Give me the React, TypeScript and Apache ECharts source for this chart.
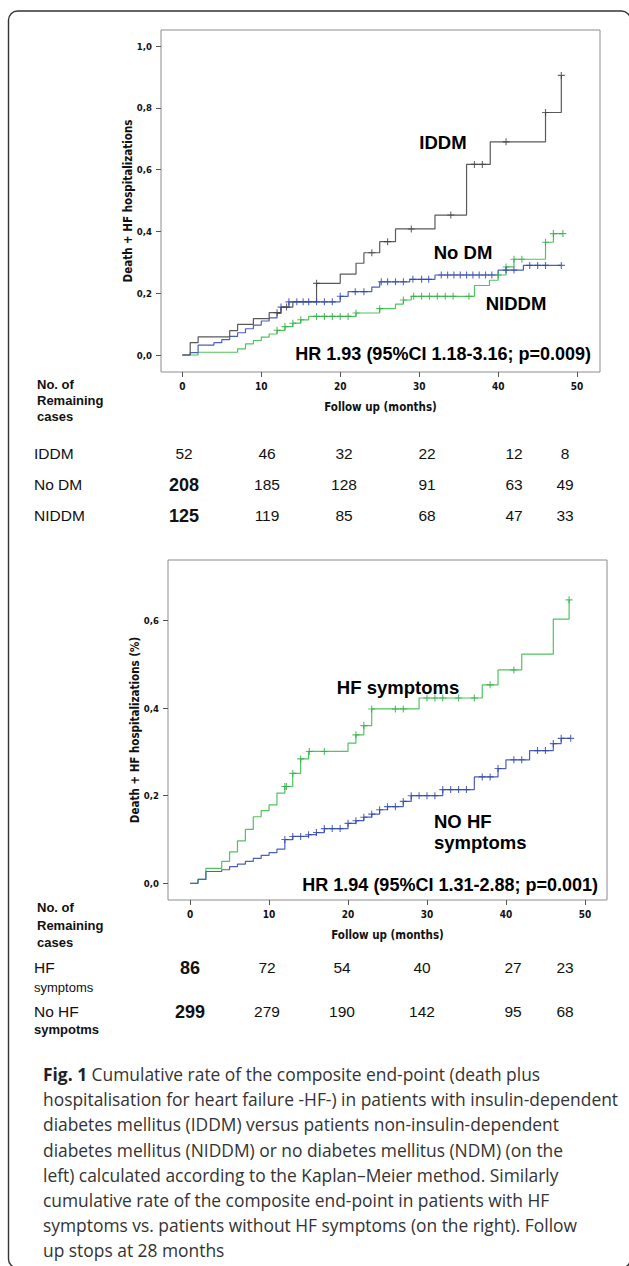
import React, { useEffect, useRef } from 'react';
import * as echarts from 'echarts';

// ---------- DATA ----------
const xTicks = [0, 10, 20, 30, 40, 50];
const topYTicks = [0, 0.2, 0.4, 0.6, 0.8, 1.0];
const botYTicks = [0, 0.2, 0.4, 0.6];

// Top chart: Kaplan-Meier cumulative curves [month, rate]
const iddmSteps = [[0, 0], [1, 0.04], [2, 0.059], [6, 0.079], [7, 0.099], [9, 0.118], [11, 0.137], [12.5, 0.155], [14, 0.173], [17, 0.232], [20, 0.262], [22, 0.297], [23, 0.331], [25, 0.367], [27, 0.408], [32, 0.453], [36, 0.617], [39, 0.69], [46, 0.785], [48, 0.905]];
const iddmCensor = [[12, 0.137], [13.2, 0.155], [17, 0.232], [24, 0.331], [26, 0.367], [29, 0.408], [34, 0.453], [37, 0.617], [38, 0.617], [41, 0.69], [46, 0.785], [48, 0.905]];

const noDmSteps = [[0, 0], [1, 0.008], [2, 0.032], [4, 0.04], [5, 0.05], [6, 0.06], [7, 0.072], [8, 0.085], [9, 0.097], [10, 0.11], [11, 0.12], [12, 0.135], [12.5, 0.155], [13.5, 0.172], [20, 0.19], [21, 0.205], [24, 0.22], [25, 0.237], [28.8, 0.245], [32, 0.259], [40, 0.275], [43.2, 0.29], [48, 0.29]];
const noDmCensor = [[12.5, 0.155], [13.5, 0.172], [14.5, 0.172], [15.3, 0.172], [16, 0.172], [17, 0.172], [18, 0.172], [19, 0.172], [20, 0.19], [21.9, 0.205], [23, 0.205], [25.2, 0.237], [26, 0.237], [27, 0.237], [28, 0.237], [29.2, 0.245], [30.3, 0.245], [31.2, 0.245], [32.8, 0.259], [33.6, 0.259], [34.4, 0.259], [35.2, 0.259], [36, 0.259], [36.8, 0.259], [37.6, 0.259], [38.4, 0.259], [39.2, 0.259], [41, 0.275], [42, 0.275], [44, 0.29], [45, 0.29], [46, 0.29], [48, 0.29]];

const niddmSteps = [[0, 0], [2, 0.009], [7, 0.02], [8, 0.036], [9, 0.047], [10, 0.058], [11, 0.068], [12, 0.08], [13, 0.092], [14, 0.103], [15, 0.114], [16, 0.125], [22, 0.136], [25, 0.15], [27, 0.165], [28, 0.178], [29, 0.19], [37, 0.225], [38.9, 0.242], [40, 0.259], [41, 0.285], [42, 0.31], [46, 0.365], [47, 0.393], [48.2, 0.393]];
const niddmCensor = [[12, 0.08], [13, 0.092], [14, 0.103], [15, 0.114], [17, 0.125], [18, 0.125], [19, 0.125], [20, 0.125], [21, 0.125], [22, 0.136], [25, 0.15], [28, 0.178], [29.3, 0.19], [30.3, 0.19], [31.3, 0.19], [32.3, 0.19], [33.3, 0.19], [34.3, 0.19], [36.3, 0.19], [40, 0.259], [41, 0.285], [42, 0.31], [43, 0.31], [46, 0.365], [47, 0.393], [48.2, 0.393]];

// Bottom chart
const hfSteps = [[0, 0], [1, 0.009], [2, 0.034], [4, 0.05], [5, 0.072], [6, 0.097], [7, 0.123], [8, 0.152], [9, 0.166], [10, 0.179], [11, 0.206], [12, 0.221], [13, 0.251], [14, 0.284], [15, 0.301], [20, 0.32], [21, 0.339], [22, 0.36], [23, 0.398], [29, 0.423], [37, 0.453], [39, 0.487], [42, 0.523], [46, 0.603], [48, 0.647]];
const hfCensor = [[12, 0.221], [12.2, 0.221], [13, 0.251], [14, 0.284], [15.1, 0.301], [17, 0.301], [21, 0.339], [22, 0.36], [23, 0.398], [26, 0.398], [27, 0.398], [30, 0.423], [31, 0.423], [32, 0.423], [34, 0.423], [36, 0.423], [38, 0.453], [41, 0.487], [48, 0.647]];

const noHfSteps = [[0, 0], [1, 0.009], [2, 0.027], [4, 0.031], [5, 0.038], [6, 0.044], [7, 0.05], [8, 0.057], [9, 0.064], [10, 0.07], [11, 0.078], [12, 0.1], [13, 0.107], [15, 0.111], [16, 0.116], [17, 0.125], [20, 0.137], [21, 0.143], [22, 0.151], [23, 0.158], [24, 0.168], [25, 0.175], [27, 0.187], [28, 0.2], [32, 0.214], [36, 0.243], [39, 0.262], [40, 0.282], [43, 0.303], [46, 0.319], [47, 0.331], [48.2, 0.331]];
const noHfCensor = [[12, 0.1], [13, 0.107], [14, 0.107], [15, 0.111], [16, 0.116], [17, 0.125], [18, 0.125], [19, 0.125], [20, 0.137], [21, 0.143], [22, 0.151], [23, 0.158], [24, 0.168], [25, 0.175], [26, 0.175], [27, 0.187], [28, 0.2], [29, 0.2], [30, 0.2], [31, 0.2], [32, 0.214], [33, 0.214], [34, 0.214], [35, 0.214], [37, 0.243], [38, 0.243], [39, 0.262], [41, 0.282], [42, 0.282], [44, 0.303], [45, 0.303], [46, 0.319], [47, 0.331], [48.2, 0.331]];

// Numbers at risk
const iddmAtRisk = [52, 46, 32, 22, 12, 8];
const noDmAtRisk = [208, 185, 128, 91, 63, 49];
const niddmAtRisk = [125, 119, 85, 68, 47, 33];
const hfAtRisk = [86, 72, 54, 40, 27, 23];
const noHfAtRisk = [299, 279, 190, 142, 95, 68];

const captionLines = [
  '{b|Fig. 1} Cumulative rate of the composite end-point (death plus',
  'hospitalisation for heart failure -HF-) in patients with insulin-dependent',
  'diabetes mellitus (IDDM) versus patients non-insulin-dependent',
  'diabetes mellitus (NIDDM) or no diabetes mellitus (NDM) (on the',
  'left) calculated according to the Kaplan\u2013Meier method. Similarly',
  'cumulative rate of the composite end-point in patients with HF',
  'symptoms vs. patients without HF symptoms (on the right). Follow',
  'up stops at 28 months',
];

// ---------- STYLE / LAYOUT ----------
const FONT = "'Liberation Sans', Arial, sans-serif";
const NARROW = "'Liberation Sans Narrow', 'DejaVu Sans Condensed', 'Liberation Sans', sans-serif";
const CAP = "'Open Sans', 'Noto Sans', sans-serif";
const C_BLACK = '#5a5a5a';
const C_BLUE = '#4a5fc0';
const C_BLUE_M = '#2f47a8';
const C_GREEN = '#4fc55e';
const C_GREEN_M = '#2fae45';
const PLUS = 'path://M-0.8,-5H0.8V-0.8H5V0.8H0.8V5H-0.8V0.8H-5V-0.8H-0.8Z';

const topCols = [184, 267, 344, 427, 514, 565];
const botCols = [190, 267, 342, 422, 513, 565];

const fmtY = (v: number) => v.toFixed(1).replace('.', ',');

function txt(text: string, x: number, y: number, size: number, weight = 'normal', align = 'left', family = FONT, fill = '#111') {
  return {
    type: 'text', x, y, silent: true,
    style: { text, fill, fontSize: size, fontFamily: family, fontWeight: weight, align, verticalAlign: 'middle' },
  };
}

function xAxisCfg(gridIndex: number, min: number, max: number) {
  return {
    type: 'value', gridIndex, min, max, position: 'bottom',
    splitLine: { show: false },
    axisLine: { show: false, onZero: false },
    axisTick: { show: true, inside: false, length: 5, customValues: xTicks, lineStyle: { color: '#555', width: 1 } },
    axisLabel: { customValues: xTicks, fontFamily: NARROW, fontWeight: 'bold', fontSize: 10, color: '#111', margin: 9 },
    name: 'Follow up (months)', nameLocation: 'middle', nameGap: 29, nameMoveOverlap: false,
    nameTextStyle: { fontFamily: NARROW, fontWeight: 'bold', fontSize: 11.5, color: '#111' },
  };
}

function yAxisCfg(gridIndex: number, min: number, max: number, ticks: number[], name: string, gap: number) {
  return {
    type: 'value', gridIndex, min, max, position: 'left',
    splitLine: { show: false },
    axisLine: { show: false, onZero: false },
    axisTick: { show: true, inside: false, length: 5, customValues: ticks, lineStyle: { color: '#555', width: 1 } },
    axisLabel: { customValues: ticks, formatter: fmtY, fontFamily: NARROW, fontWeight: 'bold', fontSize: 9.5, color: '#111', margin: 9 },
    name, nameLocation: 'middle', nameRotate: 90, nameGap: gap, nameMoveOverlap: false,
    nameTextStyle: { fontFamily: NARROW, fontWeight: 'bold', fontSize: 11.5, color: '#111' },
  };
}

function km(data: number[][], color: string, xi: number) {
  return { type: 'line', xAxisIndex: xi, yAxisIndex: xi, data, step: 'end', showSymbol: false, symbol: 'none', silent: true, lineStyle: { color, width: 1.2 }, z: 2 };
}
function cens(data: number[][], color: string, xi: number) {
  return { type: 'scatter', xAxisIndex: xi, yAxisIndex: xi, data, symbol: PLUS, symbolSize: 7, silent: true, itemStyle: { color }, z: 3 };
}

function riskRow(values: number[], cols: number[], y: number, boldFirst: boolean) {
  return values.map((v, i) =>
    (i === 0 && boldFirst)
      ? txt(String(v), cols[i], y + 1, 18, 'bold', 'center')
      : txt(String(v), cols[i], y, 15.5, 'normal', 'center'));
}

function buildOption() {
  const graphics: any[] = [];
  graphics.push({
    type: 'rect', silent: true,
    shape: { x: 8.5, y: 11, width: 622, height: 1257, r: 9 },
    style: { fill: 'none', stroke: '#333', lineWidth: 1.4 },
  });
  // curve labels
  graphics.push(txt('IDDM', 443, 142, 18.5, 'bold', 'center', FONT, '#000'));
  graphics.push(txt('No DM', 463, 252, 18.5, 'bold', 'center', FONT, '#000'));
  graphics.push(txt('NIDDM', 516, 303, 18.5, 'bold', 'center', FONT, '#000'));
  graphics.push(txt('HR 1.93 (95%CI 1.18-3.16; p=0.009)', 591, 354, 18, 'bold', 'right', FONT, '#000'));
  graphics.push(txt('HF symptoms', 398, 687, 18.5, 'bold', 'center', FONT, '#000'));
  graphics.push(txt('NO HF', 434, 821, 18.5, 'bold', 'left', FONT, '#000'));
  graphics.push(txt('symptoms', 434, 842, 18.5, 'bold', 'left', FONT, '#000'));
  graphics.push(txt('HR 1.94 (95%CI 1.31-2.88; p=0.001)', 598, 885, 18, 'bold', 'right', FONT, '#000'));

  // top table
  graphics.push(txt('No. of', 37, 384, 13, 'bold'));
  graphics.push(txt('Remaining', 37, 400, 13, 'bold'));
  graphics.push(txt('cases', 37, 416, 13, 'bold'));
  graphics.push(txt('IDDM', 34, 453, 15.5));
  graphics.push(txt('No DM', 34, 484, 15.5));
  graphics.push(txt('NIDDM', 34, 515, 15.5));
  graphics.push(...riskRow(iddmAtRisk, topCols, 453, false));
  graphics.push(...riskRow(noDmAtRisk, topCols, 484, true));
  graphics.push(...riskRow(niddmAtRisk, topCols, 515, true));

  // bottom table
  graphics.push(txt('No. of', 37, 907, 13, 'bold'));
  graphics.push(txt('Remaining', 37, 925, 13, 'bold'));
  graphics.push(txt('cases', 37, 942, 13, 'bold'));
  graphics.push(txt('HF', 34, 967, 15.5));
  graphics.push(txt('symptoms', 34, 987, 13));
  graphics.push(txt('No HF', 34, 1011, 15.5));
  graphics.push(txt('sympotms', 34, 1029, 13, 'bold'));
  graphics.push(...riskRow(hfAtRisk, botCols, 967, true));
  graphics.push(...riskRow(noHfAtRisk, botCols, 1011, true));

  // caption
  captionLines.forEach((line, i) => {
    graphics.push({
      type: 'text', x: 43, y: 1074 + i * 25.2, silent: true,
      style: {
        text: line, fill: '#333', fontSize: 17.4, fontFamily: CAP, fontWeight: 'normal',
        align: 'left', verticalAlign: 'middle',
        rich: { b: { fontWeight: 'bold', fontSize: 17.4, fontFamily: CAP, fill: '#222' } },
      },
    });
  });

  return {
    animation: false,
    backgroundColor: '#fff',
    grid: [
      { left: 161, top: 30, width: 439, height: 342, show: true, borderColor: '#8c8c8c', borderWidth: 1, backgroundColor: 'transparent' },
      { left: 168, top: 560, width: 439, height: 340, show: true, borderColor: '#8c8c8c', borderWidth: 1, backgroundColor: 'transparent' },
    ],
    xAxis: [xAxisCfg(0, -2.7, 52.9), xAxisCfg(1, -2.8, 52.8)],
    yAxis: [
      yAxisCfg(0, -0.055, 1.052, topYTicks, 'Death + HF hospitalizations', 27),
      yAxisCfg(1, -0.038, 0.738, botYTicks, 'Death + HF hospitalizations (%)', 27),
    ],
    series: [
      km(niddmSteps, C_GREEN, 0), cens(niddmCensor, C_GREEN_M, 0),
      km(noDmSteps, C_BLUE, 0), cens(noDmCensor, C_BLUE_M, 0),
      km(iddmSteps, C_BLACK, 0), cens(iddmCensor, '#444', 0),
      km(hfSteps, C_GREEN, 1), cens(hfCensor, C_GREEN_M, 1),
      km(noHfSteps, C_BLUE, 1), cens(noHfCensor, C_BLUE_M, 1),
    ],
    graphic: graphics,
  };
}

export default function App() {
  const ref = useRef<HTMLDivElement>(null);
  useEffect(() => {
    if (!ref.current) return;
    const chart = echarts.init(ref.current, null, { renderer: 'svg' });
    chart.setOption(buildOption() as any);
    return () => chart.dispose();
  }, []);
  return (
    <div
      ref={ref}
      style={{ position: 'fixed', left: 0, top: 0, width: 629, height: 1266, background: '#fff' }}
    />
  );
}
